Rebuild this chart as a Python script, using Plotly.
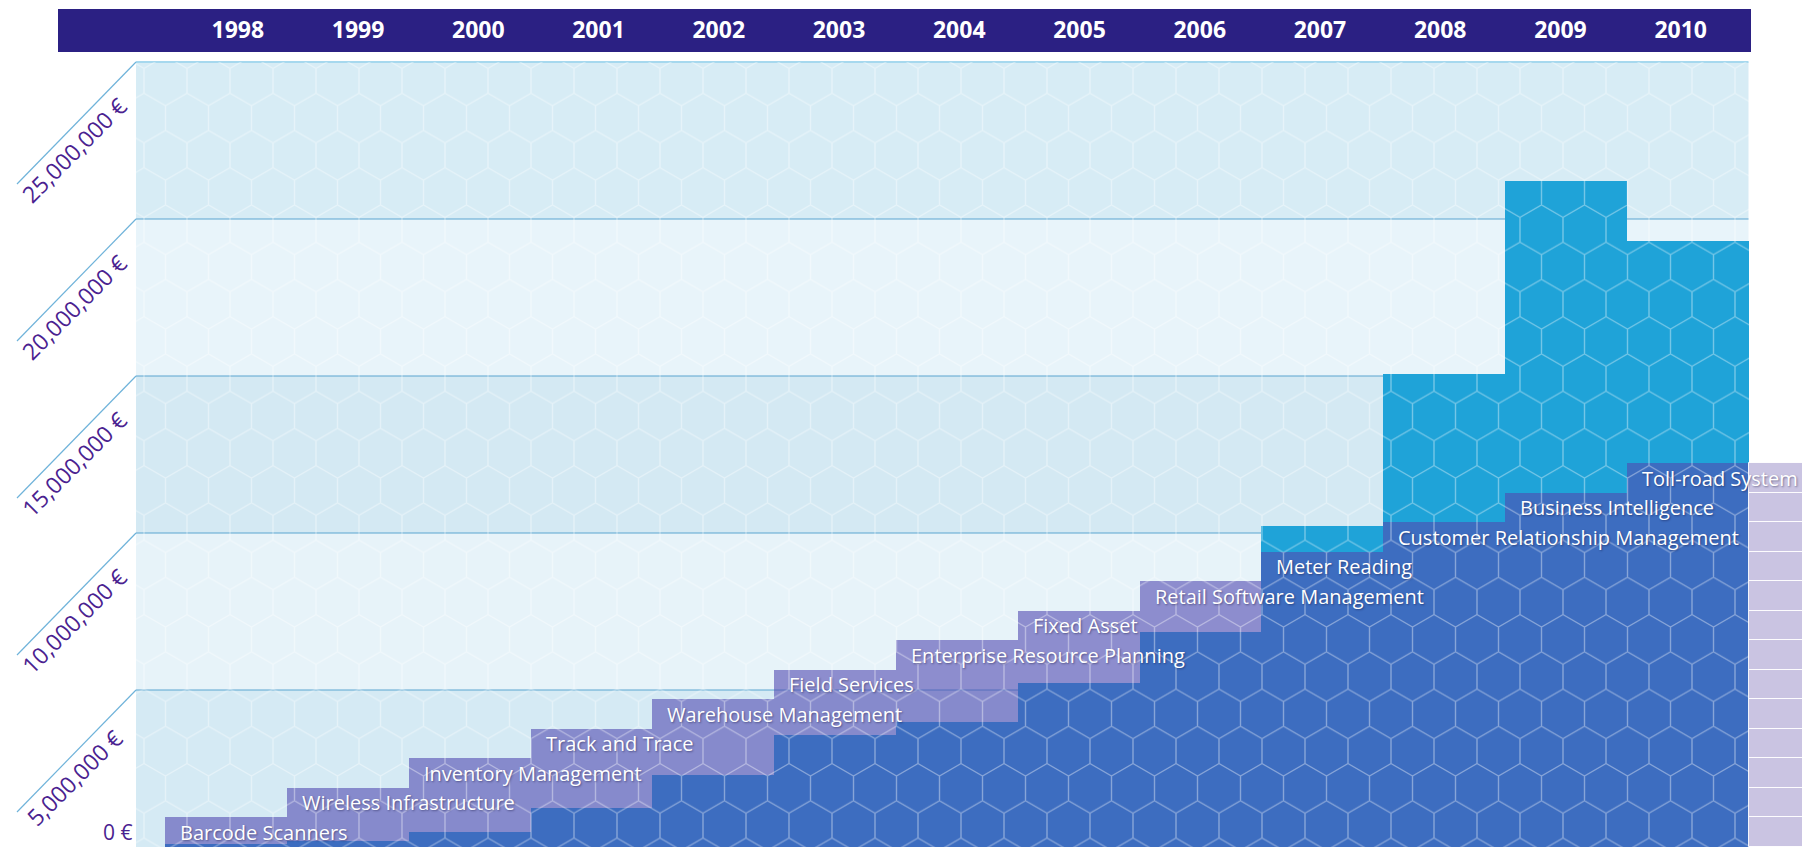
import base64
import plotly.graph_objects as go

# ---------------- data ----------------
years = [1998, 1999, 2000, 2001, 2002, 2003, 2004, 2005, 2006, 2007, 2008, 2009, 2010]
year_labels = ["1998", "1999", "2000", "2001", "2002", "2003", "2004", "2005",
               "2006", "2007", "2008", "2009", "2010"]
revenue = [0.08e6, 0.18e6, 0.49e6, 1.25e6, 2.30e6, 3.57e6, 3.97e6, 5.23e6,
           6.84e6, 10.22e6, 15.07e6, 21.2e6, 19.3e6]
projects = ["Barcode Scanners", "Wireless Infrastructure", "Inventory Management",
            "Track and Trace", "Warehouse Management", "Field Services",
            "Enterprise Resource Planning", "Fixed Asset", "Retail Software Management",
            "Meter Reading", "Customer Relationship Management", "Business Intelligence",
            "Toll-road System"]
project_start = [1998, 1999, 2000, 2001, 2002, 2003, 2004, 2005, 2006, 2007, 2008, 2009, 2010]
y_ticks = [0, 5e6, 10e6, 15e6, 20e6, 25e6]
y_tick_labels = ["0 €", "5,000,000 €", "10,000,000 €", "15,000,000 €", "20,000,000 €", "25,000,000 €"]

# ---------------- geometry / style ----------------
W, H = 1810, 847
OFF = 8                        # page body margin: figure px = screen px - OFF
COL_PX = 121.8                 # pixel width of one year column
FIRST_COL_LEFT = 165.1 - OFF   # left edge of the first column
PANEL_LEFT_PX = 136.0 - OFF
PANEL_TOP_PX = 62.0 - OFF
ZERO_PX = 847.0 - OFF
PANEL_RIGHT_PX = 1749.0 - OFF
x_range = [1997.5 - FIRST_COL_LEFT / COL_PX, 1997.5 + (W - FIRST_COL_LEFT) / COL_PX]
PX_PER_UNIT = (ZERO_PX - PANEL_TOP_PX) / 25e6
y_range = [-(H - ZERO_PX) / PX_PER_UNIT, ZERO_PX / PX_PER_UNIT]
panel_left = 1997.5 - (FIRST_COL_LEFT - PANEL_LEFT_PX) / COL_PX
panel_right = years[-1] + 0.5
BAND_H = 0.94e6

# top (year) axis calibrated to the header labels
LBL_FIRST_PX, LBL_STEP_PX = 237.8 - OFF, 120.24
x2_range = [years[0] - LBL_FIRST_PX / LBL_STEP_PX,
            years[0] + (W - LBL_FIRST_PX) / LBL_STEP_PX]

FONT = "Open Sans"

fig = go.Figure()

# revenue bars
fig.add_trace(go.Bar(
    x=years, y=revenue, width=1.0,
    marker=dict(color="#1fa3d8", line=dict(width=0)),
    hoverinfo="x+y", name="Revenue"))

# project bands (staircase), inside the panel
fig.add_trace(go.Bar(
    orientation="h",
    y=[(i + 0.5) * BAND_H for i in range(len(projects))],
    base=[s - 0.5 for s in project_start],
    x=[panel_right - (s - 0.5) for s in project_start],
    width=BAND_H,
    marker=dict(color="rgba(82,74,176,0.6)", line=dict(width=0)),
    hoverinfo="skip", name="Projects"))

# project bands beyond the panel
fig.add_trace(go.Bar(
    orientation="h",
    y=[(i + 0.5) * BAND_H for i in range(len(projects))],
    base=[panel_right] * len(projects),
    x=[x_range[1] - panel_right] * len(projects),
    width=BAND_H,
    marker=dict(color="#cac4e2", line=dict(width=1, color="rgba(255,255,255,0.9)")),
    hoverinfo="skip", name="Projects (ext)"))

# invisible trace to carry the top year axis
fig.add_trace(go.Scatter(x=years, y=revenue, xaxis="x2", yaxis="y", mode="markers",
                         marker=dict(opacity=0), hoverinfo="skip", showlegend=False))

shapes = []
# alternating background stripes
stripe_cols = ["#d5eaf4", "#e7f3f9", "#d4e9f3", "#e8f4fa", "#d7ecf5"]
for k in range(5):
    shapes.append(dict(type="rect", xref="x", yref="y",
                       x0=panel_left, x1=panel_right, y0=y_ticks[k], y1=y_ticks[k + 1],
                       fillcolor=stripe_cols[k], line=dict(width=0), layer="below"))
# grid lines and diagonal leaders
for v in y_ticks[1:]:
    top = v == y_ticks[-1]
    shapes.append(dict(type="line", xref="x", yref="y", x0=panel_left, x1=panel_right,
                       y0=v, y1=v, line=dict(color="#a6d8ee" if top else "#5aa5d0",
                                             width=2 if top else 1), layer="below"))
    shapes.append(dict(type="line", xref="x", yref="y",
                       xsizemode="pixel", xanchor=panel_left, x0=0, x1=-119,
                       ysizemode="pixel", yanchor=v, y0=0, y1=-122,
                       line=dict(color="#6fb3da", width=1.2), layer="below"))
# header bar
shapes.append(dict(type="rect", xref="paper", yref="paper",
                   x0=(58 - OFF) / W, x1=(1751 - OFF) / W,
                   y0=1 - (52 - OFF) / H, y1=1 - (9 - OFF) / H,
                   fillcolor="#2b2083", line=dict(width=0), layer="below"))

annotations = []
# y tick labels
for v, t in zip(y_ticks, y_tick_labels):
    if v == 0:
        annotations.append(dict(x=panel_left, y=v, xref="x", yref="y", text=t,
                                showarrow=False, xanchor="right", yanchor="bottom",
                                xshift=-2, yshift=-1,
                                font=dict(family=FONT, size=21, color="#4a2290")))
    else:
        annotations.append(dict(x=panel_left, y=v, xref="x", yref="y", text=t,
                                showarrow=False, textangle=-45,
                                xanchor="center", yanchor="middle",
                                xshift=-62, yshift=-88,
                                font=dict(family=FONT, size=23, color="#4a2290")))
# project labels
for i, (p, s) in enumerate(zip(projects, project_start)):
    annotations.append(dict(x=s - 0.5, y=(i + 0.5) * BAND_H, xref="x", yref="y", text=p,
                            showarrow=False, xanchor="left", yanchor="middle", xshift=13,
                            font=dict(family=FONT, size=20, color="white",
                                      shadow="1px 1px 2px rgba(20,20,60,0.45)")))

# hexagon texture (decorative) as an SVG image over the panel
pw, ph = PANEL_RIGHT_PX - PANEL_LEFT_PX, ZERO_PX - PANEL_TOP_PX
hw = 43.0
R = hw / 3 ** 0.5
svg = (f'<svg xmlns="http://www.w3.org/2000/svg" width="{pw}" height="{ph}" '
       f'viewBox="0 0 {pw} {ph}" preserveAspectRatio="none">'
       f'<defs><pattern id="h" width="{hw}" height="{3 * R:.3f}" patternUnits="userSpaceOnUse" x="8" y="-6">'
       f'<path d="M{hw / 2},0 L{hw},{R / 2:.3f} L{hw},{1.5 * R:.3f} L{hw / 2},{2 * R:.3f} '
       f'L0,{1.5 * R:.3f} L0,{R / 2:.3f} Z M{hw / 2},{2 * R:.3f} L{hw / 2},{3 * R:.3f}" '
       f'fill="none" stroke="#ffffff" stroke-opacity="0.38" stroke-width="1.4"/>'
       f'</pattern></defs><rect width="100%" height="100%" fill="url(#h)"/></svg>')
src = "data:image/svg+xml;base64," + base64.b64encode(svg.encode()).decode()

fig.update_layout(
    width=W, height=H, autosize=False,
    margin=dict(l=0, r=0, t=0, b=0, pad=0),
    paper_bgcolor="white", plot_bgcolor="rgba(0,0,0,0)",
    showlegend=False, barmode="overlay", bargap=0,
    xaxis=dict(range=x_range, visible=False, fixedrange=True),
    yaxis=dict(range=y_range, visible=False, fixedrange=True),
    xaxis2=dict(range=x2_range, overlaying="x", side="top", anchor="free", position=1 - 35 / H,
                tickmode="array", tickvals=years, ticktext=year_labels, ticks="",
                showgrid=False, zeroline=False, showline=False, fixedrange=True,
                tickfont=dict(family=FONT, size=23, color="white", weight="bold")),
    shapes=shapes, annotations=annotations,
    images=[dict(source=src, xref="paper", yref="paper", x=PANEL_LEFT_PX / W,
                 y=1 - PANEL_TOP_PX / H, sizex=pw / W, sizey=ph / H,
                 xanchor="left", yanchor="top", sizing="stretch", layer="above")],
)

fig.write_html("out.html")
